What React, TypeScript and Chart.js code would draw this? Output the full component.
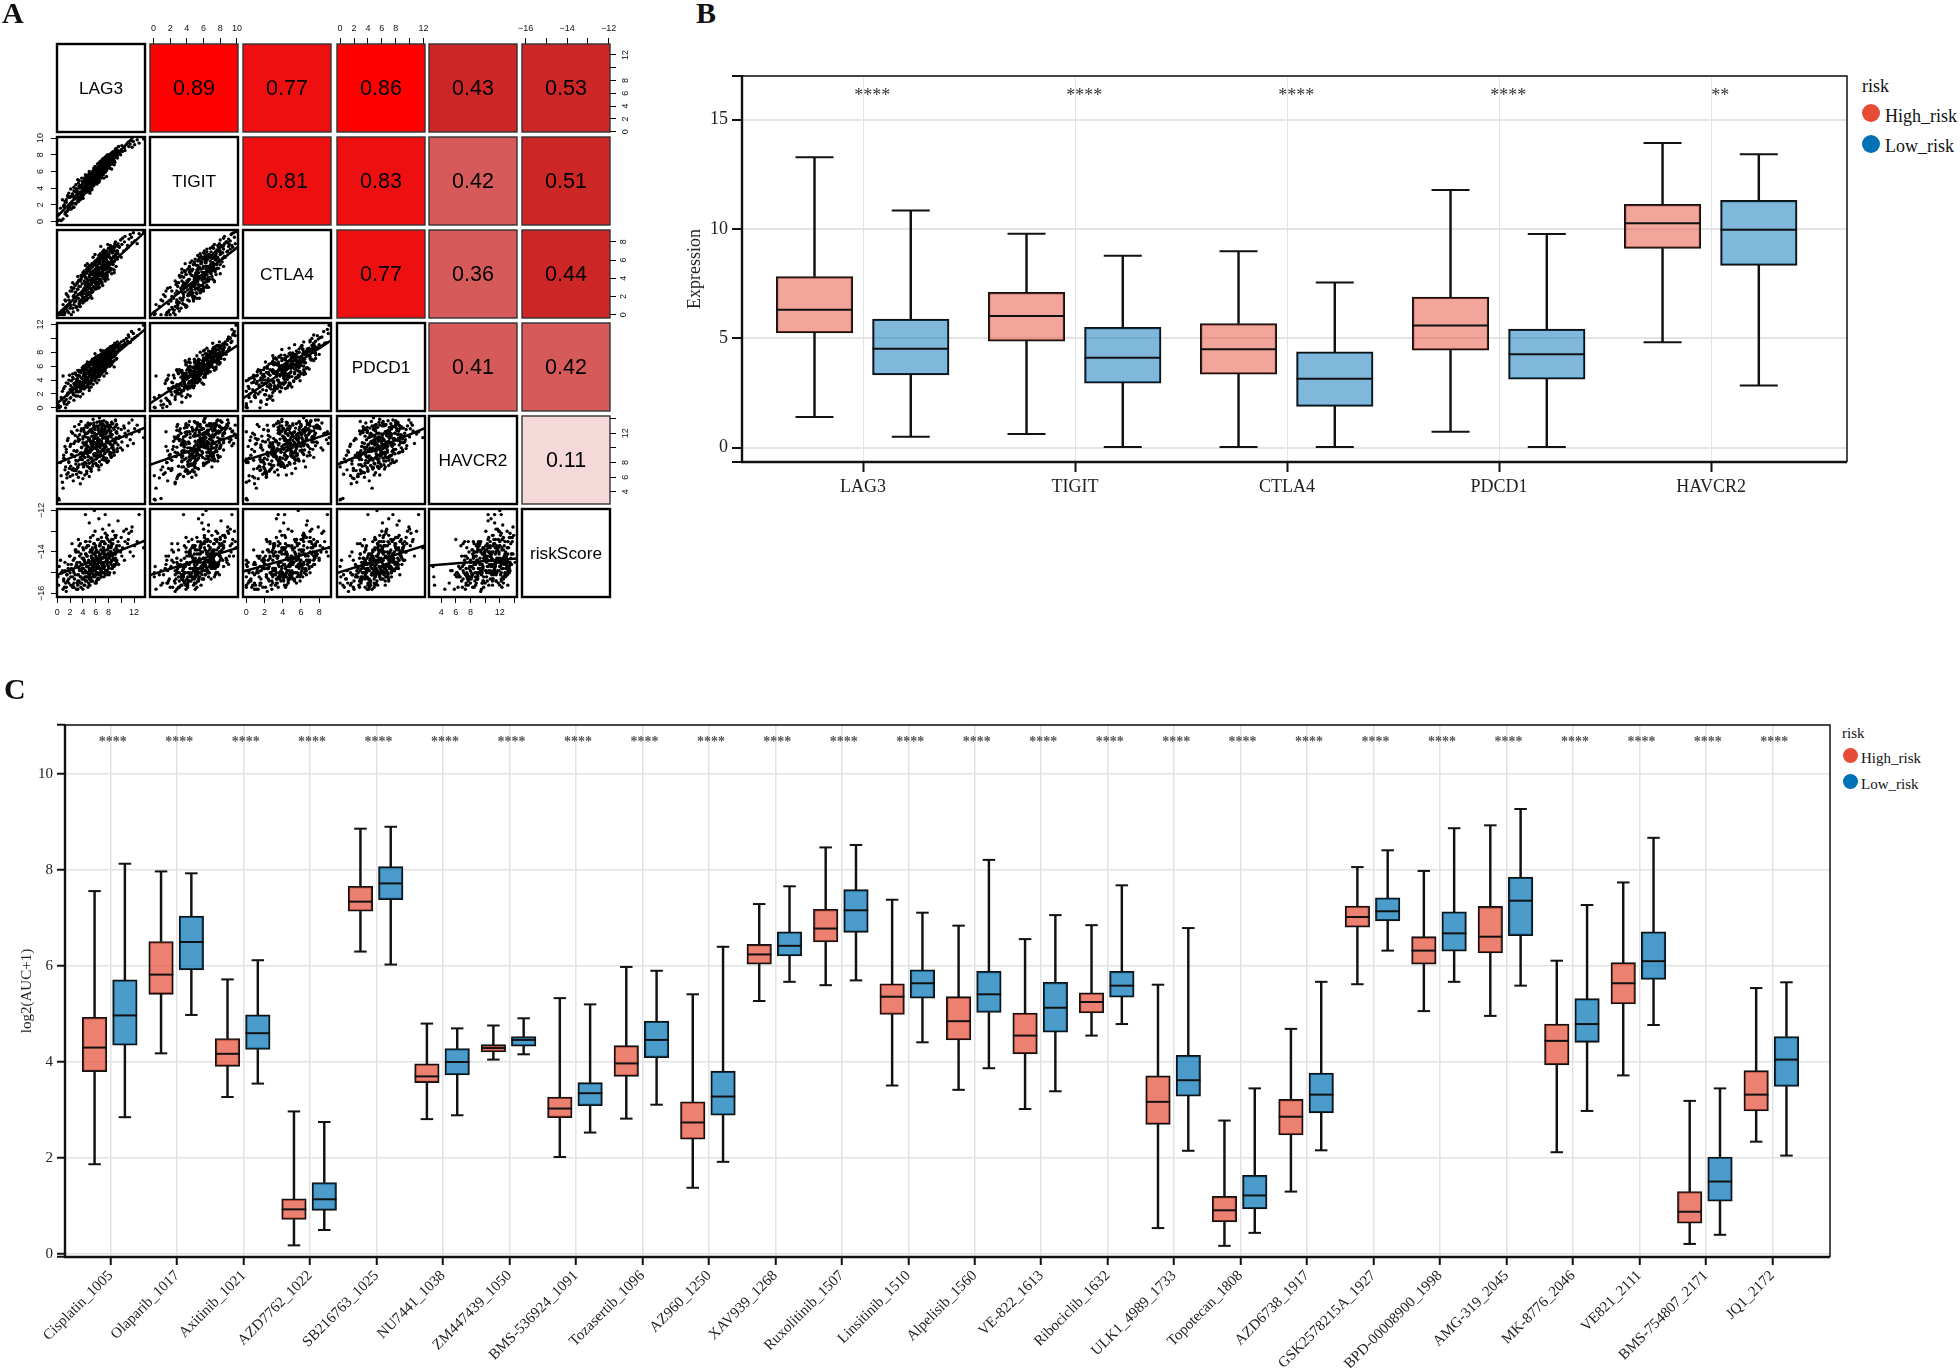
import React, { useEffect, useRef } from "react";
import { Chart, registerables } from "chart.js";

Chart.register(...registerables);

const SERIF = '"Liberation Serif", serif';
const SANS = '"Liberation Sans", sans-serif';
const HIGH_DOT = "#E64B35";
const LOW_DOT = "#0072B5";

/* ---------- panel A : values ---------- */
const geneNames = ["LAG3", "TIGIT", "CTLA4", "PDCD1", "HAVCR2", "riskScore"];
const lag3 = [
  0.1,0.3,0.2,0.6,0.5,0.9,1.0,0.8,1.3,1.2,
  1.5,1.1,1.7,1.6,1.9,1.4,2.0,2.2,1.8,2.3,
  2.1,2.5,2.4,2.7,2.6,2.9,2.8,3.0,3.2,2.9,
  3.1,3.4,3.3,3.6,3.5,3.2,3.8,3.7,3.9,3.4,
  4.0,3.8,4.2,4.1,4.4,4.3,3.9,4.5,4.6,4.2,
  4.7,4.4,4.8,4.9,4.6,5.0,5.1,4.8,5.2,5.0,
  5.3,5.4,5.1,5.5,5.6,5.3,5.7,5.8,5.5,5.9,
  6.0,5.7,6.1,6.2,5.9,6.3,6.4,6.1,6.5,6.6,
  6.3,6.7,6.8,6.5,6.9,7.0,6.7,7.1,7.2,6.9,
  7.3,7.4,7.1,7.5,7.6,7.3,7.7,7.8,7.5,7.9,
  8.0,7.7,8.2,8.1,8.4,7.9,8.5,8.3,8.7,8.6,
  8.9,8.5,9.0,9.2,8.8,9.4,9.1,9.5,9.7,9.3,
  9.9,10.0,9.6,10.2,10.4,10.1,10.6,10.8,10.5,11.0,
  11.2,11.4,11.1,11.7,11.9,12.1,11.6,12.5,12.8,13.5,
  1.0,1.2,1.4,1.5,1.7,1.8,2.0,2.1,2.2,2.4,
  2.5,2.6,2.7,2.8,2.9,3.0,3.1,3.2,3.3,3.4,
  3.5,3.6,3.7,3.8,3.8,3.9,4.0,4.0,4.1,4.2,
  4.2,4.3,4.4,4.4,4.5,4.5,4.6,4.7,4.7,4.8,
  4.8,4.9,5.0,5.0,5.1,5.1,5.2,5.2,5.3,5.3,
  5.4,5.4,5.5,5.5,5.6,5.6,5.7,5.7,5.8,5.8,
  5.9,5.9,6.0,6.0,6.1,6.1,6.2,6.2,6.3,6.3,
  6.4,6.4,6.5,6.5,6.6,6.6,6.7,6.7,6.8,6.8,
  6.9,6.9,7.0,7.0,7.1,7.1,7.2,7.2,7.3,7.3,
  7.4,7.4,7.5,7.5,7.6,7.7,7.7,7.8,7.8,7.9,
  8.0,8.0,8.1,8.2,8.2,8.3,8.4,8.4,8.5,8.6,
  8.7,8.7,8.8,8.9,9.0,9.1,9.2,9.3,9.4,9.5,
  2.6,3.0,3.3,3.5,3.7,3.9,4.0,4.1,4.2,4.3,
  4.4,4.5,4.6,4.6,4.7,4.8,4.9,5.0,5.0,5.1,
  5.2,5.2,5.3,5.4,5.4,5.5,5.5,5.6,5.7,5.7,
  5.8,5.8,5.9,6.0,6.0,6.1,6.1,6.2,6.3,6.3,
  6.4,6.4,6.5,6.6,6.6,6.7,6.7,6.8,6.9,6.9,
  7.0,7.0,7.1,7.2,7.2,7.3,7.4,7.4,7.5,7.6,
  7.6,7.7,7.8,7.8,7.9,8.0,8.1,8.1,8.2,8.3,
  8.4,8.5,8.6,8.7,8.8,8.9,9.0,9.1,9.2,9.3,
  3.2,4.0,4.7,5.3,5.9,6.5,7.1,7.7,8.3,8.9,
  2.4,3.6,4.4,5.0,5.6,6.2,6.8,7.3,7.9,8.5,
];
const tigit = [
  0.1,0.2,0.9,0.1,1.6,0.3,1.9,2.6,1.1,2.4,
  0.7,2.0,1.4,3.1,1.8,2.6,2.9,1.5,3.4,2.2,
  3.9,1.7,3.3,2.8,4.1,2.2,3.6,3.2,2.5,4.4,
  3.7,2.9,4.6,3.4,4.0,5.0,2.8,4.3,3.5,4.9,
  3.1,5.2,4.1,4.7,3.6,5.1,4.4,3.9,5.4,4.8,
  4.2,5.6,3.8,5.0,4.6,5.8,3.4,5.3,4.4,6.0,
  5.1,3.9,5.7,4.8,6.1,5.4,4.3,6.3,5.0,5.6,
  4.7,6.4,5.3,6.0,6.6,5.0,5.8,6.5,5.4,6.2,
  6.9,5.7,6.4,7.0,5.2,6.7,7.2,6.0,6.8,7.3,
  6.2,7.0,7.5,5.9,6.6,7.6,7.1,6.4,7.7,7.2,
  6.8,7.9,7.3,6.6,7.8,8.0,7.1,8.1,7.5,8.3,
  7.7,8.2,7.9,8.5,8.4,7.6,8.7,8.1,8.3,8.8,
  8.0,8.6,9.0,8.4,8.9,9.1,8.5,9.2,8.8,9.4,
  9.0,9.3,9.5,8.9,9.6,9.2,9.7,9.8,9.4,9.9,
  1.8,0.9,2.3,1.2,2.9,1.6,1.5,3.0,2.0,3.3,
  2.2,3.7,2.7,3.0,2.1,3.9,2.8,3.4,2.4,4.2,
  3.5,2.9,4.3,3.2,4.1,3.7,2.8,4.6,3.6,4.0,
  3.3,4.8,4.4,3.5,4.2,5.0,3.8,4.6,4.0,5.2,
  4.4,3.7,5.0,4.7,4.2,5.4,4.9,3.9,5.1,4.5,
  5.5,4.1,5.0,5.7,4.6,5.2,4.4,5.8,5.3,4.8,
  6.0,5.1,4.6,5.6,6.2,5.4,5.0,5.9,6.3,4.9,
  5.6,6.4,5.2,6.0,5.7,6.6,5.4,6.2,6.7,5.8,
  5.5,6.4,6.8,6.0,5.8,6.9,6.5,6.1,7.1,5.9,
  6.7,7.2,6.2,6.9,6.5,7.3,6.3,7.0,7.5,6.8,
  6.6,7.4,7.1,6.4,7.6,7.0,7.8,6.9,7.4,8.0,
  7.2,7.9,7.5,8.2,7.1,8.0,7.7,8.4,7.9,8.5,
  1.7,3.9,2.6,4.3,3.1,4.8,3.4,5.2,3.7,4.9,
  3.6,5.4,4.1,3.5,5.0,4.3,5.6,3.9,4.8,5.3,
  4.2,5.8,4.6,3.8,5.5,4.9,4.3,6.0,5.1,4.4,
  6.1,5.3,4.6,5.7,6.3,4.9,5.5,6.4,5.0,5.9,
  6.5,5.2,6.0,4.9,6.6,5.6,6.2,6.8,5.3,6.1,
  7.0,5.7,6.4,6.9,5.6,6.6,7.2,6.0,7.3,6.4,
  6.9,6.1,7.5,6.7,7.1,7.7,6.4,7.4,6.8,7.8,
  7.2,8.0,6.9,7.6,8.1,7.3,8.3,7.7,8.4,8.0,
  3.4,2.8,4.9,3.8,6.2,4.7,7.4,5.4,7.9,6.8,
  3.0,2.6,5.2,3.6,6.0,4.5,7.1,5.2,7.3,6.3,
];
const ctla4 = [
  0.0,0.1,0.0,0.3,0.0,1.1,0.5,0.0,1.5,0.2,
  0.9,0.0,2.0,0.4,1.2,2.3,0.7,0.0,1.6,2.6,
  1.0,0.3,2.9,1.4,2.1,0.8,3.2,1.8,0.5,2.5,
  3.4,1.2,2.2,3.7,0.9,2.8,1.6,3.9,2.4,3.1,
  1.3,4.2,2.7,1.9,3.5,4.4,2.3,3.0,4.6,1.7,
  3.8,2.6,4.8,3.3,2.1,4.1,5.0,3.6,2.9,5.3,
  2.4,4.4,3.2,5.5,3.9,2.7,4.7,5.7,3.5,4.2,
  5.0,3.0,5.9,4.5,3.7,6.1,4.0,5.3,3.3,6.3,
  4.8,5.6,3.9,6.5,4.3,5.1,6.7,4.6,5.9,3.6,
  6.0,5.4,6.9,4.2,5.0,7.1,5.7,4.7,6.3,5.2,
  7.3,6.0,4.9,6.6,7.4,5.5,6.2,7.6,5.0,6.8,
  7.0,5.8,7.8,6.4,7.2,6.1,8.0,6.7,7.4,6.9,
  8.2,6.3,7.5,8.4,7.0,7.7,8.6,7.2,8.0,7.6,
  8.3,8.8,7.4,7.9,9.0,8.1,8.5,7.8,8.9,9.1,
  0.3,1.6,0.6,2.2,1.0,0.2,2.6,1.4,3.0,0.7,
  2.0,1.1,3.3,2.4,1.5,0.9,3.5,2.8,1.8,3.8,
  1.2,3.1,2.2,4.1,1.6,3.4,2.6,4.3,1.9,3.7,
  2.9,1.5,4.5,3.2,2.3,4.0,4.7,2.7,3.5,1.8,
  4.9,3.0,4.2,2.4,3.8,5.1,2.0,3.3,4.5,2.8,
  5.2,3.6,4.0,2.5,4.8,5.4,3.1,4.3,3.7,5.5,
  2.9,4.6,3.4,5.0,5.7,3.9,4.4,3.2,5.3,4.1,
  5.9,3.6,4.9,4.3,5.6,3.0,6.0,4.6,5.1,3.8,
  6.2,4.4,5.4,3.5,5.8,4.8,6.4,4.1,5.2,6.1,
  3.9,5.6,6.6,4.5,5.0,6.3,5.9,4.2,6.7,5.4,
  4.7,6.5,5.7,6.9,5.1,6.2,7.1,4.9,6.0,6.8,
  5.5,7.2,6.4,5.8,7.4,6.6,6.1,7.6,7.0,7.8,
  2.9,0.8,3.7,1.5,4.3,2.0,4.6,2.3,4.8,1.9,
  4.1,3.0,5.0,1.6,3.5,5.2,2.4,4.4,3.1,5.4,
  2.1,4.7,3.3,5.6,1.8,3.9,5.3,2.6,4.5,5.7,
  3.0,4.9,5.9,2.8,3.6,5.5,4.2,6.0,3.3,5.1,
  6.2,2.9,4.6,5.8,3.8,6.3,4.3,5.2,6.5,3.5,
  4.8,6.4,3.2,5.6,6.7,4.1,5.0,6.8,3.7,6.1,
  5.4,7.0,4.4,6.6,3.9,5.8,7.2,4.7,6.3,5.1,
  7.3,4.5,6.9,5.5,7.5,4.9,6.2,7.6,5.3,7.0,
  4.2,1.3,5.6,2.5,6.6,3.4,6.9,4.0,7.4,4.6,
  3.5,0.9,5.4,2.2,6.3,3.0,7.5,4.3,7.7,5.0,
];
const pdcd1 = [
  0.1,0.0,0.4,1.5,0.2,4.6,0.9,2.4,0.0,3.1,
  1.8,0.6,3.5,2.0,4.7,1.2,2.6,3.9,0.8,2.9,
  1.5,4.2,2.2,3.3,1.9,3.7,5.0,2.6,4.3,1.7,
  3.0,5.2,3.5,2.4,4.6,3.9,5.4,2.9,4.2,3.2,
  5.5,3.6,2.7,4.8,4.0,5.7,3.1,5.0,4.4,3.6,
  5.9,4.7,3.3,5.2,4.0,6.1,4.5,3.7,5.5,4.9,
  3.9,6.2,5.0,4.3,5.7,6.4,4.6,5.3,6.6,4.1,
  5.8,5.0,6.5,4.4,6.0,6.8,5.2,5.6,7.0,4.8,
  6.2,5.4,7.1,6.5,5.0,7.3,5.8,6.7,5.2,7.4,
  6.1,7.0,5.6,7.6,6.4,6.9,5.9,7.8,6.6,7.2,
  8.0,6.3,7.5,8.2,6.8,7.7,8.4,7.1,6.6,8.5,
  7.4,8.0,8.7,7.0,8.3,9.0,7.7,8.5,9.2,8.1,
  8.8,9.5,8.4,9.0,9.7,8.7,9.3,10.0,9.1,9.6,
  10.2,9.4,10.5,9.9,10.7,10.1,11.0,10.4,11.3,11.9,
  2.8,1.0,3.6,0.5,2.2,4.0,1.4,3.2,2.6,4.4,
  1.9,3.5,2.9,5.0,2.3,4.1,3.3,1.7,4.7,3.0,
  3.8,2.5,5.1,3.4,4.3,2.8,5.5,3.7,4.6,3.1,
  5.2,4.0,2.9,4.9,5.7,3.6,4.4,3.2,5.4,4.2,
  6.0,3.8,4.8,5.1,3.5,5.8,4.5,6.2,4.1,5.3,
  3.9,5.6,4.7,6.3,5.0,4.3,6.5,5.4,4.6,5.9,
  6.7,4.9,5.2,6.1,4.4,6.8,5.6,6.4,5.1,7.0,
  4.8,6.0,5.7,7.2,6.3,5.3,6.6,4.7,7.3,5.9,
  6.9,5.5,7.5,6.2,5.8,7.7,6.5,5.4,7.1,6.8,
  6.1,7.9,5.7,7.4,6.6,8.1,7.0,6.3,8.3,7.6,
  6.8,8.0,7.3,8.6,6.5,7.8,8.4,7.1,8.8,7.5,
  8.2,9.0,7.7,8.5,9.3,8.0,8.9,7.9,9.5,8.7,
  1.1,4.7,2.3,5.4,2.8,5.8,3.2,6.0,3.5,5.5,
  4.3,6.2,3.0,5.0,6.4,3.8,4.9,6.5,2.9,5.6,
  6.6,3.6,4.5,6.8,4.0,5.4,7.0,3.4,6.1,4.7,
  7.1,5.2,3.9,6.4,7.3,4.3,5.8,7.4,4.6,6.7,
  5.0,7.5,6.0,4.5,7.6,5.5,6.9,7.7,4.9,6.3,
  7.9,5.2,7.2,6.1,8.0,5.7,6.6,8.2,5.4,7.4,
  6.8,8.3,5.9,7.7,8.4,6.3,7.0,8.6,6.0,7.9,
  8.7,6.5,8.1,7.3,8.9,6.8,8.5,7.6,9.1,7.1,
  5.4,2.0,6.6,3.0,7.8,4.0,8.2,5.0,8.8,5.9,
  4.9,1.6,6.1,2.5,7.0,3.6,8.3,4.6,8.5,6.2,
];
const havcr2 = [
  3.0,2.9,3.1,6.2,8.0,4.5,9.0,5.3,7.4,10.2,
  5.9,8.5,6.6,11.0,7.2,9.4,6.1,12.2,8.1,7.0,
  10.5,5.5,9.0,12.9,6.9,8.3,10.9,6.4,11.5,7.8,
  9.6,13.2,6.0,8.7,11.8,7.3,10.1,13.6,8.9,6.7,
  11.2,9.3,7.7,12.5,10.4,6.3,8.4,13.0,9.8,11.6,
  7.5,10.7,12.1,8.8,6.8,11.3,9.5,13.4,10.0,7.9,
  12.4,8.6,11.0,9.9,13.9,7.1,10.6,12.0,8.2,11.4,
  9.2,13.1,10.3,7.6,11.9,9.7,12.7,8.5,10.8,14.1,
  11.1,9.0,12.3,7.4,10.5,13.3,8.9,11.7,9.6,12.6,
  10.2,8.3,12.0,11.3,9.4,13.7,10.9,8.0,12.2,11.5,
  9.8,13.0,10.6,12.4,8.7,11.2,9.3,12.8,10.1,11.8,
  9.0,13.5,10.7,12.1,11.0,9.5,12.9,10.4,11.6,13.2,
  10.0,12.5,11.3,9.7,13.0,10.8,12.0,11.5,12.7,10.3,
  13.4,11.1,12.3,13.8,10.6,12.6,11.9,13.1,12.2,11.4,
  8.6,7.0,9.8,6.4,11.3,8.0,10.2,7.5,9.1,12.0,
  7.2,10.6,8.8,11.7,6.9,9.5,12.4,8.2,10.9,7.7,
  11.1,9.3,6.6,12.6,10.0,8.4,11.5,9.0,7.4,12.2,
  10.4,8.7,11.9,9.6,13.1,7.9,10.8,9.2,12.8,8.3,
  11.4,10.1,7.3,12.3,9.4,11.0,8.6,13.3,10.5,9.7,
  12.1,8.1,11.6,10.3,7.8,12.7,9.1,11.2,13.0,8.9,
  10.7,12.5,9.9,11.8,8.5,10.2,13.5,9.3,11.4,7.6,
  12.9,10.6,9.0,12.0,11.1,8.8,13.2,10.0,11.7,9.5,
  12.4,10.9,8.4,13.6,11.3,9.8,12.2,10.4,8.7,11.9,
  13.0,9.2,11.5,12.6,10.1,8.2,12.1,11.0,13.4,9.6,
  10.7,12.8,11.6,9.4,13.1,10.5,12.3,8.9,11.8,10.2,
  13.3,11.2,9.7,12.5,10.8,13.7,11.4,12.0,9.9,12.7,
  9.6,7.1,11.2,8.4,12.3,7.8,10.7,9.1,12.7,8.0,
  11.5,9.9,6.5,10.4,12.0,8.8,11.1,13.1,9.4,7.2,
  10.8,12.5,8.6,11.6,9.7,7.5,12.2,10.1,13.4,8.3,
  11.3,9.2,12.8,10.5,7.9,11.8,9.0,13.0,10.9,8.7,
  12.4,9.5,11.0,13.6,8.1,10.3,12.1,9.3,11.7,7.7,
  12.9,10.6,8.9,11.4,13.2,9.8,10.0,12.6,8.5,11.9,
  10.2,13.5,9.6,11.2,12.3,8.2,10.8,13.0,9.1,12.0,
  11.5,8.8,13.3,10.4,12.7,9.4,11.1,13.8,10.7,12.2,
  7.4,5.8,10.2,6.8,11.3,7.0,12.4,8.6,12.9,9.7,
  6.3,5.1,9.3,6.1,10.9,7.6,11.8,8.4,13.1,10.0,
];
const riskScore = [
  -15.2,-14.7,-15.6,-15.0,-14.4,-15.8,-15.3,-14.9,-15.5,-14.5,
  -15.1,-15.7,-14.8,-15.4,-14.2,-15.9,-15.0,-14.6,-15.3,-13.6,
  -15.6,-14.9,-15.2,-14.3,-15.7,-13.9,-15.1,-14.7,-15.4,-14.0,
  -15.5,-14.8,-13.4,-15.2,-14.5,-15.8,-14.9,-14.1,-15.3,-13.7,
  -15.0,-14.6,-15.6,-14.3,-12.2,-15.2,-14.8,-13.8,-15.4,-14.4,
  -15.0,-13.5,-14.7,-15.5,-14.2,-12.6,-15.1,-14.5,-13.9,-15.3,
  -14.8,-14.0,-15.6,-14.4,-13.2,-15.0,-14.6,-12.0,-15.2,-14.1,
  -13.7,-14.9,-15.4,-14.3,-13.0,-14.7,-15.1,-14.0,-12.4,-14.5,
  -15.3,-13.6,-14.8,-14.2,-13.3,-15.0,-14.4,-12.9,-14.6,-15.2,
  -13.9,-14.1,-14.7,-12.2,-15.0,-13.5,-14.3,-14.9,-13.1,-14.5,
  -13.8,-15.1,-14.2,-12.7,-14.6,-13.4,-14.8,-14.0,-13.0,-14.4,
  -15.0,-13.6,-14.1,-13.2,-14.7,-13.9,-14.3,-12.5,-13.7,-14.5,
  -14.0,-13.3,-14.6,-13.8,-13.0,-14.2,-13.5,-12.9,-14.4,-13.6,
  -13.1,-14.0,-13.4,-12.8,-14.2,-13.7,-13.0,-13.5,-12.2,-13.8,
  -15.4,-14.9,-15.7,-15.1,-14.6,-15.5,-14.2,-15.2,-14.8,-15.6,
  -14.4,-15.0,-15.3,-13.9,-14.7,-15.8,-14.5,-15.1,-14.0,-15.4,
  -14.9,-13.6,-15.2,-14.6,-15.5,-14.3,-15.0,-13.8,-14.8,-15.3,
  -14.4,-15.6,-14.1,-14.9,-13.5,-15.2,-14.7,-15.0,-14.2,-15.7,
  -14.5,-13.7,-15.1,-14.8,-14.0,-15.3,-14.6,-13.3,-14.9,-15.4,
  -14.3,-15.0,-13.9,-14.7,-15.2,-14.1,-14.8,-13.6,-15.1,-14.4,
  -14.9,-15.5,-14.2,-13.8,-14.6,-15.0,-14.3,-14.8,-13.4,-15.3,
  -14.5,-14.0,-15.1,-14.7,-13.7,-14.2,-15.0,-14.4,-13.9,-14.9,
  -15.2,-14.1,-13.5,-14.6,-14.8,-14.3,-15.0,-13.8,-14.5,-14.0,
  -14.7,-13.6,-15.1,-14.2,-14.9,-13.9,-14.4,-13.2,-14.6,-14.1,
  -13.7,-14.8,-14.3,-13.5,-15.0,-14.0,-13.8,-14.5,-13.4,-14.2,
  -14.7,-13.6,-14.1,-13.9,-14.4,-13.3,-14.6,-13.7,-14.0,-13.5,
  -15.5,-14.6,-15.1,-14.2,-15.7,-14.8,-15.3,-13.9,-15.0,-14.5,
  -15.4,-14.1,-15.2,-14.7,-13.7,-15.0,-14.4,-15.6,-14.9,-13.5,
  -14.6,-15.3,-14.2,-15.0,-14.8,-13.8,-15.4,-14.3,-14.9,-15.1,
  -13.6,-14.5,-15.2,-14.0,-14.7,-15.5,-13.9,-14.4,-15.0,-14.6,
  -13.4,-14.8,-15.3,-14.1,-14.5,-13.7,-15.1,-14.3,-14.9,-13.5,
  -14.6,-15.0,-14.0,-14.7,-13.8,-15.2,-14.2,-14.5,-13.6,-14.9,
  -14.3,-13.3,-15.0,-14.4,-13.9,-14.7,-14.1,-15.1,-13.5,-14.5,
  -14.0,-13.7,-14.8,-13.4,-14.3,-14.6,-13.2,-14.1,-13.8,-14.4,
  -15.6,-15.8,-15.2,-15.4,-14.9,-15.3,-14.5,-15.0,-14.2,-14.7,
  -15.7,-15.5,-15.0,-15.2,-14.6,-15.1,-14.3,-14.8,-14.1,-14.4,
];
const sampleValues = [lag3, tigit, ctla4, pdcd1, havcr2, riskScore];

const axisRanges = [
  [-0.05, 13.72], [-0.42, 10.13], [-0.37, 9.3], [-0.45, 12.22], [2.34, 14.35], [-16.17, -11.93],
];
const axisTicks = [
  [0, 2, 4, 6, 8, 10, 12],
  [0, 2, 4, 6, 8, 10],
  [0, 2, 4, 6, 8],
  [0, 2, 4, 6, 8, 10, 12],
  [4, 6, 8, 10, 12, 14],
  [-16, -15, -14, -13, -12],
];
const axisLabels = [
  [0, 2, 4, 6, 8, 12],
  [0, 2, 4, 6, 8, 10],
  [0, 2, 4, 6, 8],
  [0, 2, 4, 6, 8, 12],
  [4, 6, 8, 12],
  [-16, -14, -12],
];
const correlations = [
  [null, "0.89", "0.77", "0.86", "0.43", "0.53"],
  [null, null, "0.81", "0.83", "0.42", "0.51"],
  [null, null, null, "0.77", "0.36", "0.44"],
  [null, null, null, null, "0.41", "0.42"],
  [null, null, null, null, null, "0.11"],
];
const correlationFills = [
  [null, "#FF0000", "#EE1010", "#FF0000", "#CD2626", "#CD2626"],
  [null, null, "#EE1010", "#EE1010", "#D75A5A", "#CD2626"],
  [null, null, null, "#EE1010", "#D75A5A", "#CD2626"],
  [null, null, null, null, "#D75A5A", "#D75A5A"],
  [null, null, null, null, null, "#F5D9D9"],
];
/* row, col, x0, y0, x1, y1 */
const fitLines = [
  [1, 0, -0.05, 0.56, 11.9, 10.13],
  [2, 0, -0.05, 0.0, 13.72, 9.1],
  [2, 1, -0.42, -0.07, 10.13, 7.45],
  [3, 0, -0.05, 0.63, 13.72, 11.3],
  [3, 1, -0.42, 0.63, 10.13, 9.06],
  [3, 2, -0.37, 1.35, 9.3, 9.7],
  [4, 0, -0.05, 7.9, 13.72, 12.77],
  [4, 1, -0.42, 7.68, 10.13, 11.86],
  [4, 2, -0.37, 8.2, 9.3, 12.0],
  [4, 3, -0.45, 7.7, 12.22, 12.7],
  [5, 0, -0.05, -15.11, 13.72, -13.45],
  [5, 1, -0.42, -15.11, 10.13, -13.8],
  [5, 2, -0.37, -14.94, 9.3, -13.76],
  [5, 3, -0.45, -15.02, 12.22, -13.68],
  [5, 4, 2.34, -14.65, 14.35, -14.32],
];

/* ---------- panel B : [low, q1, median, q3, high] ---------- */
const geneGroups = ["LAG3", "TIGIT", "CTLA4", "PDCD1", "HAVCR2"];
const geneHigh = [
  [1.40, 5.25, 6.31, 7.83, 13.28],
  [0.63, 4.87, 6.02, 7.11, 9.79],
  [0.03, 3.36, 4.50, 5.68, 8.98],
  [0.73, 4.46, 5.59, 6.89, 11.79],
  [4.82, 9.11, 10.27, 11.13, 13.94],
];
const geneLow = [
  [0.50, 3.33, 4.52, 5.88, 10.85],
  [0.03, 2.95, 4.11, 5.51, 8.78],
  [0.03, 1.89, 3.15, 4.38, 7.56],
  [0.03, 3.13, 4.27, 5.42, 9.77],
  [2.84, 8.34, 9.97, 11.31, 13.42],
];
const geneStars = ["****", "****", "****", "****", "**"];
const geneYTicks = [0, 5, 10, 15];

/* ---------- panel C : [low, q1, median, q3, high] ---------- */
const drugs = [
  "Cisplatin_1005", "Olaparib_1017", "Axitinib_1021", "AZD7762_1022", "SB216763_1025", "NU7441_1038",
  "ZM447439_1050", "BMS-536924_1091", "Tozasertib_1096", "AZ960_1250", "XAV939_1268", "Ruxolitinib_1507",
  "Linsitinib_1510", "Alpelisib_1560", "VE-822_1613", "Ribociclib_1632", "ULK1_4989_1733", "Topotecan_1808",
  "AZD6738_1917", "GSK2578215A_1927", "BPD-00008900_1998", "AMG-319_2045", "MK-8776_2046", "VE821_2111",
  "BMS-754807_2171", "JQ1_2172",
];
const drugHigh = [
  [1.87, 3.80, 4.30, 4.93, 7.56],
  [4.18, 5.41, 5.82, 6.51, 7.97],
  [3.27, 3.91, 4.17, 4.49, 5.72],
  [0.18, 0.72, 0.93, 1.15, 2.97],
  [6.30, 7.14, 7.34, 7.66, 8.86],
  [2.81, 3.57, 3.70, 3.96, 4.80],
  [4.05, 4.21, 4.29, 4.36, 4.76],
  [2.02, 2.84, 3.03, 3.27, 5.33],
  [2.82, 3.70, 3.97, 4.34, 5.98],
  [1.38, 2.39, 2.74, 3.17, 5.41],
  [5.27, 6.04, 6.24, 6.45, 7.29],
  [5.60, 6.50, 6.78, 7.18, 8.47],
  [3.51, 4.99, 5.36, 5.63, 7.38],
  [3.42, 4.46, 4.85, 5.36, 6.84],
  [3.02, 4.17, 4.55, 5.02, 6.56],
  [4.55, 5.02, 5.25, 5.44, 6.85],
  [0.54, 2.70, 3.17, 3.71, 5.61],
  [0.17, 0.67, 0.91, 1.20, 2.78],
  [1.30, 2.48, 2.86, 3.22, 4.69],
  [5.62, 6.81, 7.02, 7.25, 8.06],
  [5.06, 6.04, 6.32, 6.61, 7.98],
  [4.96, 6.27, 6.61, 7.24, 8.93],
  [2.12, 3.94, 4.44, 4.79, 6.11],
  [3.72, 5.21, 5.64, 6.07, 7.74],
  [0.21, 0.64, 0.88, 1.30, 3.19],
  [2.34, 2.98, 3.32, 3.82, 5.54],
];
const drugLow = [
  [2.85, 4.35, 4.97, 5.71, 8.13],
  [4.98, 5.92, 6.50, 7.04, 7.93],
  [3.55, 4.26, 4.60, 4.98, 6.12],
  [0.50, 0.91, 1.14, 1.49, 2.75],
  [6.03, 7.38, 7.72, 8.07, 8.90],
  [2.89, 3.73, 4.00, 4.28, 4.70],
  [4.16, 4.33, 4.46, 4.53, 4.91],
  [2.53, 3.09, 3.35, 3.57, 5.20],
  [3.11, 4.09, 4.46, 4.85, 5.90],
  [1.92, 2.89, 3.28, 3.81, 6.40],
  [5.67, 6.21, 6.42, 6.71, 7.66],
  [5.70, 6.70, 7.16, 7.59, 8.52],
  [4.41, 5.33, 5.64, 5.92, 7.11],
  [3.87, 5.03, 5.41, 5.89, 8.21],
  [3.39, 4.62, 5.13, 5.66, 7.06],
  [4.79, 5.35, 5.59, 5.89, 7.68],
  [2.15, 3.29, 3.62, 4.14, 6.79],
  [0.44, 0.94, 1.22, 1.64, 3.45],
  [2.16, 2.94, 3.32, 3.77, 5.67],
  [6.32, 6.94, 7.14, 7.42, 8.41],
  [5.67, 6.31, 6.68, 7.13, 8.87],
  [5.59, 6.63, 7.36, 7.85, 9.27],
  [2.98, 4.41, 4.79, 5.32, 7.27],
  [4.77, 5.72, 6.10, 6.71, 8.67],
  [0.40, 1.10, 1.51, 2.02, 3.45],
  [2.05, 3.49, 4.05, 4.53, 5.66],
];
const drugStars = drugs.map(() => "****");
const drugYTicks = [0, 2, 4, 6, 8, 10];

/* ---------- generic pieces ---------- */
function ChartCanvas({ left, top, width, height, config }: any) {
  const ref = useRef<HTMLCanvasElement | null>(null);
  useEffect(() => {
    const chart = new Chart(ref.current as HTMLCanvasElement, config);
    return () => chart.destroy();
  }, []);
  return (
    <canvas
      ref={ref}
      width={width}
      height={height}
      style={{ position: "absolute", left, top, width, height, pointerEvents: "none" }}
    />
  );
}

const noScalePadding = (s: any) => {
  s.paddingLeft = 0;
  s.paddingRight = 0;
  s.paddingTop = 0;
  s.paddingBottom = 0;
};

function boxConfig(p: any) {
  const xH = (i: number) => i + 1 - p.dodge + p.shift;
  const xL = (i: number) => i + 1 + p.dodge + p.shift;
  const all = [...p.high.map((b: number[], i: number) => [xH(i), b]), ...p.low.map((b: number[], i: number) => [xL(i), b])];
  const whiskers = all.flatMap(([x, b]: any) => [{ x, y: [b[3], b[4]] }, { x, y: [b[0], b[1]] }]);
  const caps = all.flatMap(([x, b]: any) => [{ x, y: b[0] }, { x, y: b[4] }]);
  const medians = all.map(([x, b]: any) => ({ x, y: b[2] }));
  const tickValues = p.categories.map((_: string, i: number) => i + 1);
  const overlay = {
    id: "overlay",
    afterDraw(chart: any) {
      const { ctx, chartArea: a, scales } = chart;
      ctx.save();
      ctx.strokeStyle = "#111";
      ctx.lineWidth = 1.5;
      ctx.beginPath();
      ctx.moveTo(a.left, a.top);
      ctx.lineTo(a.right, a.top);
      ctx.lineTo(a.right, a.bottom);
      ctx.stroke();
      ctx.lineWidth = 2.4;
      ctx.beginPath();
      ctx.moveTo(a.left, a.top - 0.7);
      ctx.lineTo(a.left, a.bottom);
      ctx.lineTo(a.right, a.bottom);
      ctx.stroke();
      ctx.fillStyle = p.starColor;
      ctx.font = `${p.starWeight} ${p.starSize}px ${SERIF}`;
      ctx.textAlign = "center";
      ctx.textBaseline = "alphabetic";
      p.stars.forEach((s: string, i: number) => {
        ctx.fillText(s, scales.x.getPixelForValue(i + 1 + p.starShift), scales.y.getPixelForValue(p.starY));
      });
      ctx.restore();
    },
  };
  const boxDataset = (boxes: number[][], xf: (i: number) => number, fill: string) => ({
    type: "bar",
    data: boxes.map((b, i) => ({ x: xf(i), y: [b[1], b[3]] })),
    backgroundColor: fill,
    borderColor: "#111",
    borderWidth: p.boxBorder,
    borderSkipped: false,
    barThickness: p.boxWidth,
    grouped: false,
    order: 2,
  });
  return {
    type: "bar",
    data: {
      datasets: [
        { type: "scatter", label: "median", data: medians, pointStyle: "line", pointRadius: p.boxWidth / 2, borderColor: "#111", borderWidth: 2, order: 1 },
        { type: "scatter", label: "caps", data: caps, pointStyle: "line", pointRadius: p.capWidth / 2, borderColor: "#111", borderWidth: 2, order: 1 },
        boxDataset(p.high, xH, p.highFill),
        boxDataset(p.low, xL, p.lowFill),
        { type: "bar", label: "whisker", data: whiskers, backgroundColor: "#111", borderWidth: 0, barThickness: 1.8, grouped: false, order: 3 },
      ],
    },
    plugins: [overlay],
    options: {
      responsive: false,
      animation: false,
      events: [],
      layout: { autoPadding: false, padding: { top: p.padTop, right: p.padRight, left: 0, bottom: 0 } },
      plugins: { legend: { display: false }, tooltip: { enabled: false } },
      scales: {
        x: {
          type: "linear",
          offset: false,
          min: p.xMin,
          max: p.xMax,
          afterBuildTicks: (s: any) => { s.ticks = tickValues.map((value: number) => ({ value })); },
          afterFit: (s: any) => { s.height = p.xAxisHeight; noScalePadding(s); },
          grid: { offset: false, color: p.gridColor, lineWidth: p.gridV, tickColor: "#111", tickWidth: 2, tickLength: p.tickLen },
          border: { display: false },
          ticks: {
            autoSkip: false,
            minRotation: p.rotation,
            maxRotation: p.rotation,
            padding: p.xPad,
            color: "#222",
            font: { family: SERIF, size: p.fontSize },
            callback: (v: number) => p.categories[Math.round(v) - 1] ?? "",
          },
        },
        y: {
          type: "linear",
          min: p.yMin,
          max: p.yMax,
          afterBuildTicks: (s: any) => { s.ticks = [p.yMin, ...p.yTicks, p.yMax].map((value: number) => ({ value })); },
          afterFit: (s: any) => { s.width = p.yAxisWidth; noScalePadding(s); },
          title: { display: true, text: p.yTitle, color: "#222", font: { family: SERIF, size: p.fontSize }, padding: { top: p.titlePad, bottom: 0 } },
          grid: { color: p.gridColor, lineWidth: p.gridH, tickColor: "#111", tickWidth: 2, tickLength: p.tickLen },
          border: { display: false },
          ticks: {
            autoSkip: false,
            padding: 4,
            color: "#222",
            font: { family: SERIF, size: p.fontSize },
            callback: (v: number) => (p.yTicks.includes(v) ? String(v) : ""),
          },
        },
      },
    },
  };
}

const M = 45;
const CELL = 88;
const cellLefts = [57, 150, 243, 337, 429, 522];
const cellTops = [44, 137, 230, 323, 416, 509];

function cellConfig(row: number, col: number) {
  const xPos = row === 0 && col % 2 === 1 ? "top" : row === 5 && col % 2 === 0 ? "bottom" : null;
  const yPos = col === 0 && row % 2 === 1 ? "left" : col === 5 && row % 2 === 0 ? "right" : null;
  const isLower = row > col;
  const isDiag = row === col;
  const text = isDiag ? geneNames[row] : isLower ? null : (correlations[row][col] as string);
  const textSize = isDiag ? 17.3 : 21.5;
  const fill = isDiag ? "#FFFFFF" : isLower ? null : (correlationFills[row][col] as string);
  const tickFont = { family: SANS, size: 9 };
  const label = (v: number, list: number[]) => {
    if (!list.includes(v)) return "";
    return v < 0 ? "\u2212" + Math.abs(v) : String(v);
  };
  const decor = {
    id: "cellDecor",
    afterDraw(chart: any) {
      const { ctx, chartArea: a } = chart;
      ctx.save();
      ctx.strokeStyle = isLower || isDiag ? "#000" : "#333";
      ctx.lineWidth = isLower || isDiag ? 2.4 : 1.4;
      ctx.strokeRect(a.left, a.top, a.right - a.left, a.bottom - a.top);
      if (text) {
        ctx.fillStyle = "#000";
        ctx.font = `${textSize}px ${SANS}`;
        ctx.textAlign = "center";
        ctx.textBaseline = "middle";
        ctx.fillText(text, (a.left + a.right) / 2, (a.top + a.bottom) / 2 + 1);
      }
      ctx.restore();
    },
  };
  const fit = fitLines.find((f) => f[0] === row && f[1] === col);
  const datasets: any[] = isLower
    ? [
        {
          type: "scatter",
          data: fit ? [{ x: fit[2], y: fit[3] }, { x: fit[4], y: fit[5] }] : [],
          showLine: true,
          borderColor: "#000",
          borderWidth: 2.5,
          pointRadius: 0,
          order: 1,
        },
        {
          type: "scatter",
          data: sampleValues[col].map((x, i) => ({ x, y: sampleValues[row][i] })),
          backgroundColor: "#000",
          borderWidth: 0,
          pointRadius: 1.7,
          order: 2,
        },
      ]
    : [
        {
          type: "bar",
          data: [1],
          xAxisID: "cx",
          yAxisID: "cy",
          backgroundColor: fill,
          borderWidth: 0,
          barPercentage: 1,
          categoryPercentage: 1,
        },
      ];
  const scales: any = {
    x: {
      type: "linear",
      min: axisRanges[col][0],
      max: axisRanges[col][1],
      display: !!xPos,
      position: xPos || "bottom",
      offset: false,
      afterBuildTicks: (s: any) => { s.ticks = axisTicks[col].map((value) => ({ value })); },
      afterFit: (s: any) => { if (xPos) s.height = M; noScalePadding(s); },
      grid: { offset: false, drawOnChartArea: false, tickLength: 6, tickColor: "#000", lineWidth: 1 },
      border: { display: false },
      ticks: {
        autoSkip: false,
        maxRotation: 0,
        minRotation: 0,
        padding: 4,
        color: "#111",
        font: tickFont,
        callback: (v: number) => label(v, axisLabels[col]),
      },
    },
    y: {
      type: "linear",
      min: axisRanges[row][0],
      max: axisRanges[row][1],
      display: !!yPos,
      position: yPos || "left",
      afterBuildTicks: (s: any) => { s.ticks = axisTicks[row].map((value) => ({ value })); },
      afterFit: (s: any) => { if (yPos) s.width = M; noScalePadding(s); },
      grid: { drawOnChartArea: false, tickLength: 6, tickColor: "#000", lineWidth: 1 },
      border: { display: false },
      ticks: {
        autoSkip: false,
        minRotation: 90,
        maxRotation: 90,
        crossAlign: "center",
        padding: row === 5 ? 2 : 5,
        color: "#111",
        font: tickFont,
        callback: (v: number) => label(v, axisLabels[row]),
      },
    },
  };
  if (!isLower) {
    scales.cx = { axis: "x", type: "category", labels: ["r"], display: false, offset: true };
    scales.cy = { axis: "y", type: "linear", min: 0, max: 1, display: false };
  }
  return {
    type: isLower ? "scatter" : "bar",
    data: { labels: ["r"], datasets },
    plugins: [decor],
    options: {
      responsive: false,
      animation: false,
      events: [],
      layout: {
        autoPadding: false,
        padding: {
          left: yPos === "left" ? 0 : M,
          right: yPos === "right" ? 0 : M,
          top: xPos === "top" ? 0 : M,
          bottom: xPos === "bottom" ? 0 : M,
        },
      },
      plugins: { legend: { display: false }, tooltip: { enabled: false } },
      scales,
    },
  };
}

const panelBConfig = boxConfig({
  categories: geneGroups, high: geneHigh, low: geneLow, stars: geneStars,
  dodge: 0.227, shift: -0.002, boxWidth: 76.5, capWidth: 38, boxBorder: 1.6,
  highFill: "rgba(230,75,53,0.5)", lowFill: "rgba(0,114,181,0.5)",
  starColor: "#333", starWeight: "normal", starSize: 18, starShift: 0.043, starY: 15.85,
  xMin: 0.429, xMax: 5.641, yMin: -0.654, yMax: 17.0, yTicks: geneYTicks, yTitle: "Expression",
  padTop: 26, padRight: 3, xAxisHeight: 58, yAxisWidth: 82, titlePad: 24, tickLen: 10, xPad: 4,
  rotation: 0, fontSize: 18, gridColor: "#E4E4E4", gridV: 1, gridH: 2,
});

const panelCConfig = boxConfig({
  categories: drugs, high: drugHigh, low: drugLow, stars: drugStars,
  dodge: 0.228, shift: -0.015, boxWidth: 24.5, capWidth: 12.5, boxBorder: 1.6,
  highFill: "rgba(230,75,53,0.7)", lowFill: "rgba(0,114,181,0.7)",
  starColor: "#555", starWeight: "bold", starSize: 14, starShift: 0.03, starY: 10.59,
  xMin: 0.312, xMax: 26.868, yMin: -0.0625, yMax: 11.02, yTicks: drugYTicks, yTitle: "log2(AUC+1)",
  padTop: 25, padRight: 5, xAxisHeight: 111, yAxisWidth: 65, titlePad: 18, tickLen: 8, xPad: 2,
  rotation: 45, fontSize: 15, gridColor: "#E2E2E2", gridV: 1.5, gridH: 1.5,
});

const textStyle = (left: number, top: number, size: number, weight = "normal"): any => ({
  position: "absolute", left, top, font: `${weight} ${size}px/${size === 30 ? 30 : 20}px ${SERIF}`, color: "#111", whiteSpace: "nowrap",
});
const dot = (cx: number, cy: number, r: number, color: string): any => ({
  position: "absolute", left: cx - r, top: cy - r, width: 2 * r, height: 2 * r, borderRadius: "50%", background: color,
});

export default function App() {
  const cells: any[] = [];
  geneNames.forEach((_, row) => {
    geneNames.forEach((__, col) => {
      cells.push(
        <ChartCanvas
          key={`${row}-${col}`}
          left={cellLefts[col] - M}
          top={cellTops[row] - M}
          width={CELL + 2 * M}
          height={CELL + 2 * M}
          config={cellConfig(row, col)}
        />
      );
    });
  });
  return (
    <div style={{ position: "absolute", left: 0, top: 0, width: 1960, height: 1368, background: "#fff", overflow: "hidden" }}>
      {cells}
      <ChartCanvas left={660} top={50} width={1190} height={470} config={panelBConfig} />
      <ChartCanvas left={0} top={700} width={1835} height={668} config={panelCConfig} />

      <div style={textStyle(2, -2, 30, "bold")}>A</div>
      <div style={textStyle(696, -2, 30, "bold")}>B</div>
      <div style={textStyle(4, 674, 30, "bold")}>C</div>

      <div style={textStyle(1862, 76, 18)}>risk</div>
      <div style={dot(1871, 113, 9, HIGH_DOT)} />
      <div style={dot(1871, 144, 9, LOW_DOT)} />
      <div style={textStyle(1885, 106, 18)}>High_risk</div>
      <div style={textStyle(1885, 136, 18)}>Low_risk</div>

      <div style={textStyle(1842, 723, 15)}>risk</div>
      <div style={dot(1850, 755.4, 7.5, HIGH_DOT)} />
      <div style={dot(1850, 781, 7.5, LOW_DOT)} />
      <div style={textStyle(1861, 748, 15)}>High_risk</div>
      <div style={textStyle(1861, 773.5, 15)}>Low_risk</div>
    </div>
  );
}
